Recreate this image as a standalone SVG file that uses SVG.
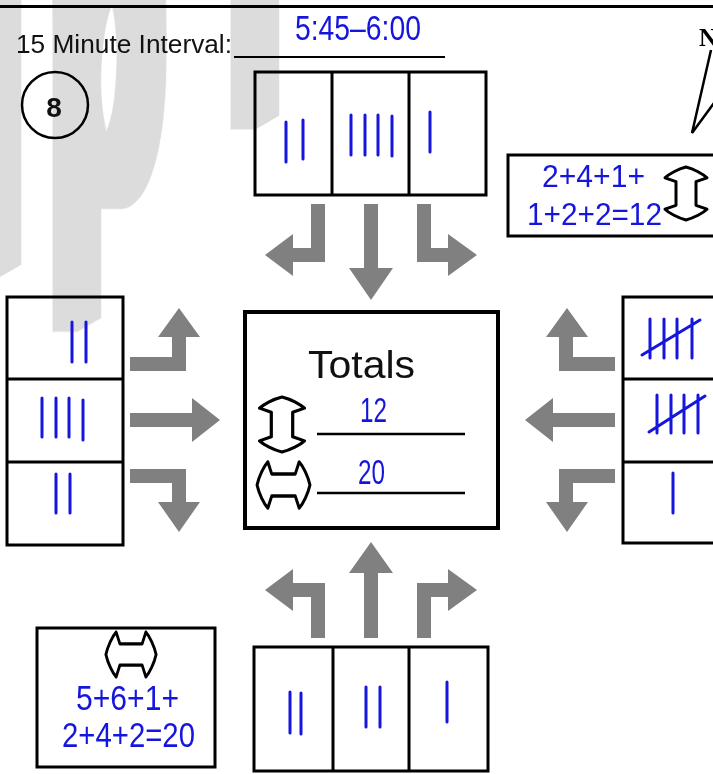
<svg xmlns="http://www.w3.org/2000/svg" width="713" height="774" viewBox="0 0 713 774">
  <style>
    .box{fill:none;stroke:#000;stroke-width:3}
    .tally{fill:none;stroke:#1515dd;stroke-width:3;stroke-linecap:round}
    .arrow{fill:#808080}
    .blue{fill:#1515dd;font-family:"Liberation Sans",Arial,sans-serif}
    .lbl{fill:#111;font-family:"Liberation Sans",Arial,sans-serif}
    .dbl{fill:#fff;stroke:#000;stroke-width:3;stroke-linejoin:round}
    .wm{font-family:"Liberation Sans",Arial,sans-serif;font-weight:bold;font-size:480px;fill:#dcdcdc}
  </style>
  <defs>
    <!-- outline double-headed arrow, drawn upright, centred on 0,0 -->
    <path id="updown" d="M0,-27 C-8,-25 -17,-20 -21,-16 L-10,-12 V12 L-21,16 C-17,20 -8,25 0,27 C8,25 17,20 21,16 L10,12 V-12 L21,-16 C17,-20 8,-25 0,-27 Z"/>
    <!-- widens the background lettering evenly in page pixels -->
    <filter id="thicken" filterUnits="userSpaceOnUse" x="-50" y="-50" width="813" height="874">
      <feMorphology operator="dilate" radius="12"/>
    </filter>
  </defs>
  <rect width="713" height="774" fill="#fff"/>

  <!-- faint background lettering -->
  <g id="watermark" filter="url(#thicken)">
    <text class="wm" transform="matrix(0.375,-0.2165,0,1,-28,274.2)">l</text>
    <text class="wm" transform="matrix(0.375,-0.2165,0,1,52,228)">p</text>
    <text class="wm" transform="matrix(0.375,-0.2165,0,1,230,125.2)">i</text>
  </g>

  <!-- header -->
  <g id="header">
    <line x1="0" y1="6.5" x2="713" y2="6.5" stroke="#000" stroke-width="3"/>
    <text class="lbl" x="16" y="53" font-size="26" textLength="216" lengthAdjust="spacingAndGlyphs">15 Minute Interval:</text>
    <line x1="234" y1="57" x2="445" y2="57" stroke="#000" stroke-width="2"/>
    <text class="blue" x="295" y="40" font-size="35" textLength="126" lengthAdjust="spacingAndGlyphs">5:45–6:00</text>
  </g>

  <g id="sheet-number">
    <circle cx="55" cy="105" r="33" fill="none" stroke="#000" stroke-width="2.5"/>
    <text class="lbl" x="54" y="117" font-size="28" font-weight="bold" text-anchor="middle">8</text>
  </g>

  <!-- north indicator -->
  <g id="north">
    <text x="699" y="46" font-family="'Liberation Serif',serif" font-weight="bold" font-size="25" fill="#000">N</text>
    <polyline points="711,50 692,133 714,103" fill="none" stroke="#000" stroke-width="2.5" stroke-linejoin="miter"/>
  </g>

  <!-- southbound approach (top) -->
  <g id="approach-top">
    <rect class="box" x="255" y="72" width="231" height="123"/>
    <line class="box" x1="332" y1="72" x2="332" y2="195"/>
    <line class="box" x1="409" y1="72" x2="409" y2="195"/>
    <path class="tally" d="M286,122V162 M303,120V159 M351,115V155 M365,115V155 M378,115V155 M392,116V156 M430,112V152"/>
  </g>

  <!-- eastbound approach (left) -->
  <g id="approach-left">
    <rect class="box" x="7" y="297" width="116" height="248"/>
    <line class="box" x1="7" y1="379" x2="123" y2="379"/>
    <line class="box" x1="7" y1="462" x2="123" y2="462"/>
    <path class="tally" d="M72,322V362 M86,322V362 M42,398V437 M56,398V437 M69,398V437 M83,400V440 M56,474V513 M70,474V513"/>
  </g>

  <!-- westbound approach (right) -->
  <g id="approach-right">
    <rect class="box" x="623" y="297" width="100" height="246"/>
    <line class="box" x1="623" y1="379" x2="713" y2="379"/>
    <line class="box" x1="623" y1="462" x2="713" y2="462"/>
    <path class="tally" d="M650,319V358 M664,319V358 M677,319V358 M692,319V358 M642,355L700,320 M657,395V433 M671,395V433 M684,395V433 M698,395V433 M649,432L705,396 M673,473V513"/>
  </g>

  <!-- northbound approach (bottom) -->
  <g id="approach-bottom">
    <rect class="box" x="254" y="647" width="234" height="124"/>
    <line class="box" x1="333" y1="647" x2="333" y2="771"/>
    <line class="box" x1="409" y1="647" x2="409" y2="771"/>
    <path class="tally" d="M290,692V733 M301,693V734 M366,687V727 M380,687V727 M447,682V722"/>
  </g>

  <!-- totals -->
  <g id="totals">
    <rect x="245" y="312" width="253" height="216" fill="none" stroke="#000" stroke-width="4"/>
    <text class="lbl" x="308" y="378" font-size="38" textLength="107" lengthAdjust="spacingAndGlyphs">Totals</text>
    <use href="#updown" class="dbl" transform="translate(282,424.5) scale(1.07,1.02)"/>
    <text class="blue" x="360" y="422" font-size="35" textLength="27" lengthAdjust="spacingAndGlyphs">12</text>
    <line x1="317" y1="434" x2="465" y2="434" stroke="#000" stroke-width="2.5"/>
    <use href="#updown" class="dbl" transform="translate(283.5,485) rotate(90) scale(1.1,0.98)"/>
    <text class="blue" x="358" y="484" font-size="35" textLength="27" lengthAdjust="spacingAndGlyphs">20</text>
    <line x1="317" y1="493" x2="465" y2="493" stroke="#000" stroke-width="2.5"/>
  </g>

  <!-- north-south sum -->
  <g id="sum-ns">
    <rect class="box" x="508" y="155" width="215" height="81"/>
    <text class="blue" x="542" y="187" font-size="31" textLength="103" lengthAdjust="spacingAndGlyphs">2+4+1+</text>
    <text class="blue" x="527" y="225" font-size="31" textLength="135" lengthAdjust="spacingAndGlyphs">1+2+2=12</text>
    <use href="#updown" class="dbl" transform="translate(686,193.5) scale(1,0.98)"/>
  </g>

  <!-- east-west sum -->
  <g id="sum-ew">
    <rect class="box" x="37" y="628" width="178" height="139"/>
    <use href="#updown" class="dbl" transform="translate(131,654.5) rotate(90) scale(1.07,0.93)"/>
    <text class="blue" x="76" y="710" font-size="35" textLength="103" lengthAdjust="spacingAndGlyphs">5+6+1+</text>
    <text class="blue" x="62" y="747" font-size="35" textLength="133" lengthAdjust="spacingAndGlyphs">2+4+2=20</text>
  </g>

  <!-- turning movement arrows -->
  <g id="connectors">
    <!-- from top approach -->
    <path class="arrow" d="M311,204H325V262H293V276L265,255L293,234V248H311Z"/>
    <path class="arrow" d="M364,204H378V268H393L371,300L349,268H364Z"/>
    <path class="arrow" d="M417,204H431V248H448V234L477,255L448,276V262H417Z"/>
    <!-- from bottom approach -->
    <path class="arrow" d="M311,638V597H293V611L265,590L293,569V583H325V638Z"/>
    <path class="arrow" d="M364,638V573H349L371,542L393,573H378V638Z"/>
    <path class="arrow" d="M431,638V597H448V611L477,590L448,569V583H417V638Z"/>
    <!-- from left approach -->
    <path class="arrow" d="M130,357H172V337H158L179,308L200,337H186V371H130Z"/>
    <path class="arrow" d="M130,413H192V398L220,420L192,442V427H130Z"/>
    <path class="arrow" d="M130,469H186V502H200L179,532L158,502H172V483H130Z"/>
    <!-- from right approach -->
    <path class="arrow" d="M615,357H573V337H588L567,308L546,337H559V371H615Z"/>
    <path class="arrow" d="M615,413H553V398L525,420L553,442V427H615Z"/>
    <path class="arrow" d="M615,469H559V502H546L567,532L588,502H573V483H615Z"/>
  </g>
</svg>
